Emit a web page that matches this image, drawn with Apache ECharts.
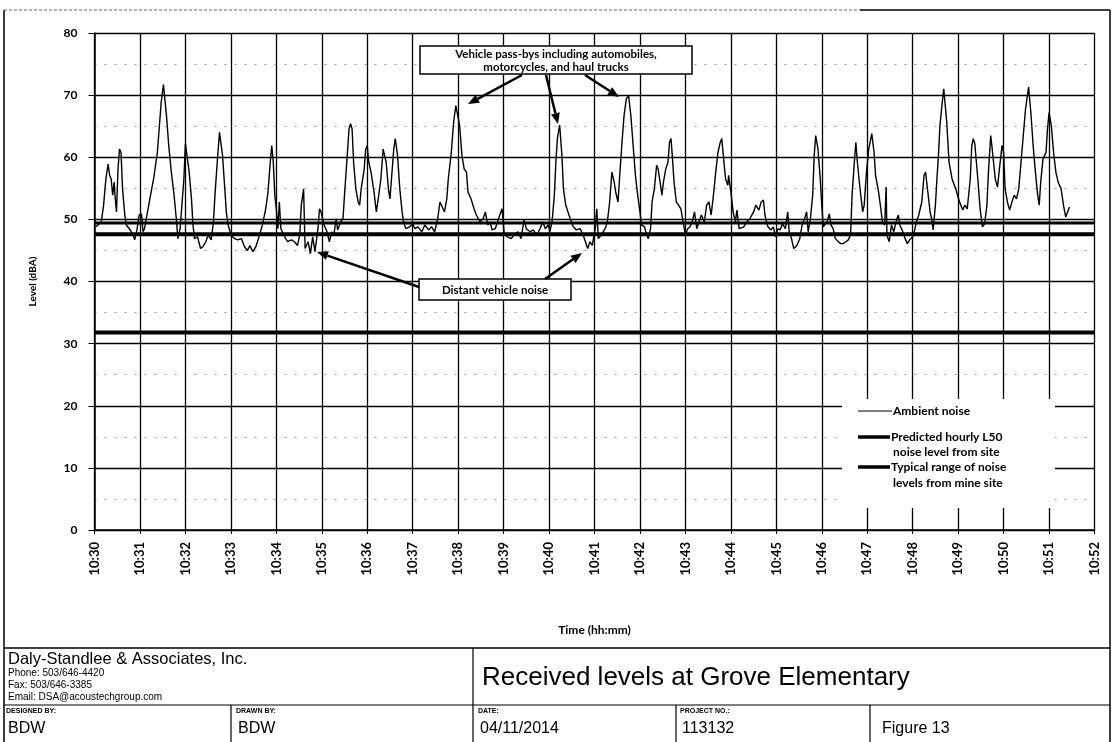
<!DOCTYPE html>
<html>
<head>
<meta charset="utf-8">
<script src="https://cdn.jsdelivr.net/npm/echarts@6/dist/echarts.min.js"></script>
<style>
html,body{margin:0;padding:0;background:#fff;}
#c{width:1114px;height:742px;}
</style>
</head>
<body>
<div id="c"></div>
<script>
// ---- Data (seconds after 10:30:00, level in dBA) ----
const xTickLabels = ['10:30','10:31','10:32','10:33','10:34','10:35','10:36','10:37','10:38','10:39','10:40','10:41','10:42','10:43','10:44','10:45','10:46','10:47','10:48','10:49','10:50','10:51','10:52'];
const yTickValues = [0,10,20,30,40,50,60,70,80];

const ambientTimes = [
2,9,12,15,18,20,22,24,26,27,29,31,33,35,37,40,42,46,51,53,56,59,62,64,66,70,74,78,83,86,88,91,95,98,101,105,108,110,113,115,118,120,122,125,128,130,132,136,140,143,147,150,154,157,159,162,165,167,169,172,174,176,180,185,189,194,198,202,205,209,213,218,222,226,229,232,234,236,238,240,242,244,246,251,255,260,264,268,271,273,276,278,282,285,288,291,295,297,299,303,307,310,313,316,319,321,325,328,330,333,336,338,340,342,345,348,350,352,356,358,360,362,365,369,372,374,378,381,383,385,388,390,392,395,397,400,403,406,408,411,416,420,
423,427,432,436,441,445,449,453,456,458,462,465,467,471,474,477,479,482,485,488,491,493,497,501,504,509,513,516,519,522,525,529,532,535,538,541,545,550,554,559,563,567,570,575,579,584,588,592,595,599,601,604,607,609,611,614,617,619,622,625,628,632,636,641,645,648,651,654,657,661,663,665,669,674,677,680,683,686,688,691,693,696,699,702,705,708,711,714,717,720,722,726,729,731,734,736,739,742,744,746,749,751,754,757,759,761,763,765,768,771,774,777,780,783,786,789,792,795,798,801,805,808,811,814,817,820,823,826,828,830,833,836,837,840,843,846,
848,851,853,857,861,865,870,873,875,877,880,883,885,887,889,893,896,899,902,905,908,912,915,917,920,923,927,931,934,938,940,942,945,948,950,952,955,958,960,962,964,967,970,972,975,978,982,985,988,992,995,998,1000,1003,1005,1007,1010,1014,1016,1019,1022,1026,1029,1031,1035,1038,1040,1043,1045,1046,1049,1052,1055,1058,1061,1063,1067,1070,1073,1076,1080,1082,1085,1088,1092,1095,1097,1100,1103,1105,1107,1110,1112,1114,1116,1119,1121,1125,1128,1132,1135,1137,1139,1142,1146,1149,1152,1156,1158,1160,1162,1166,1169,1172,1175,1178,1180,1183,1185,1189,1192,1194,1198,1200,1202,1205,1208,1211,1214,1217,1220,1223,1226,1229,1233,1236,1239,1242,1245,1247,1249,1252,1256,1258,1260,1263,1266,1269,1272,1276,1279,1282,1287
];
const ambientLevels = [
48.8,49.6,52.3,56.5,58.9,57.1,56.5,53.9,56.0,53.9,51.2,58.1,61.3,60.8,54.9,50.7,49.1,48.5,47.5,46.7,48.3,50.7,50.9,48.0,48.5,51.2,53.9,56.5,60.8,65.6,68.8,71.7,66.7,61.9,58.1,53.9,50.1,46.9,48.5,51.7,56.5,62.2,62.4,57.6,53.3,49.1,46.9,47.2,45.3,45.6,46.4,47.5,46.7,49.6,53.9,59.2,64.0,64.0,60.3,54.9,51.2,49.3,47.5,46.9,46.7,46.9,45.6,45.0,45.8,44.8,45.6,47.5,49.3,51.7,54.4,59.2,61.9,59.2,53.9,51.7,48.5,52.8,48.5,47.2,46.4,46.7,46.4,45.8,47.5,52.3,54.9,45.3,46.4,44.5,47.2,44.8,48.5,51.7,51.2,49.1,48.0,46.4,48.0,47.5,50.1,48.3,49.6,50.1,53.9,59.2,64.6,65.4,64.6,59.2,54.9,52.8,52.3,54.9,58.1,61.3,61.9,59.2,57.6,54.4,51.2,52.8,56.5,61.3,61.6,59.2,54.9,53.3,56.5,61.3,63.0,60.3,54.9,51.2,49.6,48.5,48.8,49.3,
48.5,48.8,48.0,49.1,48.3,48.8,48.0,50.1,52.8,53.1,51.2,53.3,56.5,60.8,65.6,68.3,68.0,65.1,60.3,58.1,57.6,54.4,53.3,51.7,50.7,49.6,50.1,51.2,49.1,49.6,48.3,48.5,49.6,50.7,51.7,47.5,47.2,46.9,47.5,48.0,46.9,49.9,48.5,48.0,48.3,47.5,48.5,49.6,48.5,49.1,48.0,49.6,53.9,59.2,63.0,65.2,60.3,54.9,52.3,51.2,50.1,48.8,48.3,48.5,47.5,46.4,45.3,46.4,45.8,48.5,51.7,46.9,47.5,48.5,49.6,52.8,57.6,56.0,54.4,52.8,56.5,61.9,66.7,69.4,69.9,66.7,61.9,57.1,53.9,51.2,49.1,48.8,47.5,46.9,48.5,52.8,54.9,58.7,58.1,56.5,53.9,56.0,58.1,59.2,62.4,63.0,59.7,56.0,52.8,52.3,51.7,49.6,47.5,48.5,48.8,49.6,51.2,48.5,49.6,50.7,49.6,52.3,52.8,50.7,53.9,57.6,60.8,62.4,63.0,60.3,56.5,55.5,57.1,54.4,51.2,49.6,
51.5,48.5,48.5,48.8,49.6,50.1,51.2,52.3,52.5,51.5,52.8,53.1,50.7,49.6,48.8,48.3,48.8,47.2,48.5,48.3,49.3,48.5,51.2,48.0,46.9,45.3,45.8,46.9,49.1,50.4,51.2,48.0,50.1,53.9,60.3,63.5,61.3,56.5,52.3,48.8,48.5,49.6,50.9,49.1,48.5,46.9,46.4,46.1,46.1,46.4,46.7,47.5,53.9,59.2,62.4,59.2,55.5,51.2,52.3,57.6,61.3,63.8,60.8,57.1,54.4,51.7,49.6,49.1,55.2,47.5,46.4,49.1,48.0,49.6,50.7,49.1,48.0,46.9,46.1,46.7,47.2,48.0,49.6,50.7,52.8,57.1,57.6,54.4,51.2,50.1,48.3,52.3,56.5,60.3,65.1,68.8,71.0,65.6,59.2,56.5,55.5,54.9,53.9,52.8,51.5,52.3,51.7,56.5,61.9,63.0,62.2,56.5,51.7,48.8,49.3,52.3,57.6,63.5,61.3,56.5,55.2,57.6,61.9,60.8,54.9,52.8,51.5,52.8,53.9,53.3,54.9,59.2,63.5,67.8,71.3,67.2,61.9,57.6,53.9,52.3,56.0,59.7,60.8,64.6,67.2,65.1,60.8,57.6,56.0,54.9,52.3,50.4,52.0
];

const predictedL50 = 31.8;            // Predicted hourly L50 noise level from site
const mineRangeLow = 47.6;            // Typical range of noise levels from mine site
const mineRangeHigh = 49.4;

const legendLabels = ['Ambient noise', 'Predicted hourly L50', 'noise level from site', 'Typical range of noise', 'levels from mine site'];
const passByText = ['Vehicle pass-bys including automobiles,', 'motorcycles, and haul trucks'];
const distantText = 'Distant vehicle noise';
const footer = {
  company: 'Daly-Standlee & Associates, Inc.',
  phone: 'Phone: 503/646-4420',
  fax: 'Fax: 503/646-3385',
  email: 'Email: DSA@acoustechgroup.com',
  title: 'Received levels at Grove Elementary',
  heads: ['DESIGNED BY:', 'DRAWN BY:', 'DATE:', 'PROJECT NO.:', ''],
  vals: ['BDW', 'BDW', '04/11/2014', '113132', 'Figure 13']
};

// ---- Chart ----
const chart = echarts.init(document.getElementById('c'));
const lab = {fontFamily:'Lato, "Open Sans", sans-serif', fontWeight:'bold', color:'#000'};
const ambientData = ambientTimes.map((t,i)=>[t, ambientLevels[i]]);

function arrow(x1,y1,x2,y2){
  const a = Math.atan2(y2-y1, x2-x1), L = 11, W = 4.5;
  const bx = x2 - L*Math.cos(a), by = y2 - L*Math.sin(a);
  const px = -Math.sin(a)*W, py = Math.cos(a)*W;
  return [
    {type:'line', z:120, shape:{x1:x1,y1:y1,x2:bx,y2:by}, style:{stroke:'#000', lineWidth:2.5}},
    {type:'polygon', z:120, shape:{points:[[x2,y2],[bx+px,by+py],[bx-px,by-py]]}, style:{fill:'#000'}}
  ];
}
const T = (x,y,text,fs,extra)=>Object.assign({type:'text', z:130, x:x, y:y, style:Object.assign({text:text, fontSize:fs, fontFamily:'"Liberation Sans", Arial, sans-serif', fill:'#000', textVerticalAlign:'middle'}, extra||{})});
const Lf = (x1,y1,x2,y2,w,c)=>({type:'line', z:110, shape:{x1:x1,y1:y1,x2:x2,y2:y2}, style:{stroke:c||'#000', lineWidth:w||1.5}});

const graphics = [];
// outer frame
graphics.push(Lf(4,10,4,742,1.5), Lf(1110,10,1110,742,1.5), Lf(860,10,1110,10,1.5));
graphics.push({type:'line', z:110, shape:{x1:4,y1:10,x2:860,y2:10}, style:{stroke:'#666', lineWidth:1.2, lineDash:[3,2]}});
// legend box
graphics.push({type:'rect', z:100, shape:{x:842,y:399,width:213,height:109}, style:{fill:'#fff'}});
graphics.push({type:'line', z:110, shape:{x1:858,y1:411,x2:892,y2:411}, style:{stroke:'#000', lineWidth:1.2}});
graphics.push({type:'line', z:110, shape:{x1:858,y1:437,x2:890,y2:437}, style:{stroke:'#000', lineWidth:3.5}});
graphics.push({type:'line', z:110, shape:{x1:858,y1:467,x2:890,y2:467}, style:{stroke:'#000', lineWidth:3.5}});
const legY = [411, 437, 452, 467, 483];
const legX = [893, 891, 893, 891, 893];
legendLabels.forEach((s,i)=>graphics.push(T(legX[i], legY[i], s, 12, {fontFamily:lab.fontFamily, fontWeight:'bold'})));
// annotation boxes
graphics.push({type:'rect', z:115, shape:{x:420,y:46,width:272,height:28}, style:{fill:'#fff', stroke:'#000', lineWidth:1.5}});
graphics.push(T(556, 54, passByText[0], 11.5, {fontFamily:lab.fontFamily, fontWeight:'bold', textAlign:'center'}));
graphics.push(T(556, 67, passByText[1], 11.5, {fontFamily:lab.fontFamily, fontWeight:'bold', textAlign:'center'}));
graphics.push({type:'rect', z:115, shape:{x:419,y:279,width:152,height:21}, style:{fill:'#fff', stroke:'#000', lineWidth:1.5}});
graphics.push(T(495, 290, distantText, 11.5, {fontFamily:lab.fontFamily, fontWeight:'bold', textAlign:'center'}));
graphics.push(...arrow(522,75,468,104), ...arrow(546,75,558,124), ...arrow(585,75,619,97));
graphics.push(...arrow(419,287,317,252), ...arrow(545,279,582,253));
// footer
graphics.push(Lf(4,648,1110,648,1.5), Lf(4,705,1110,705,1.2), Lf(473,648,473,742,1.2));
[231,676,870].forEach(x=>graphics.push(Lf(x,705,x,742,1.2)));
graphics.push(T(8,659,footer.company,16.5));
graphics.push(T(8,673,footer.phone,10), T(8,685,footer.fax,10), T(8,697,footer.email,10));
graphics.push(T(482,678,footer.title,26));
const colX = [6,236,478,680,880];
footer.heads.forEach((h,i)=>{ if(h) graphics.push(T(colX[i],711,h,7,{fontWeight:'bold'})); });
footer.vals.forEach((v,i)=>graphics.push(T(colX[i]+2,729,v,16)));

const hLine = (name,val,w)=>({name:name, type:'line', data:[[0,val],[1320,val]], symbol:'none', silent:true, z:4,
  lineStyle:{color:'#000', width:w}, animation:false});

chart.setOption({
  animation:false,
  backgroundColor:'#fff',
  grid:{left:94.5, right:19.5, top:33, bottom:212, containLabel:false},
  xAxis:{type:'value', min:0, max:1320, interval:60,
    axisLine:{show:true, onZero:false, lineStyle:{color:'#000', width:1.5}},
    axisTick:{show:true, length:4, lineStyle:{color:'#000'}},
    axisLabel:Object.assign({rotate:90, margin:12, fontSize:13, formatter:v=>xTickLabels[Math.round(v/60)]}, lab),
    splitLine:{show:true, lineStyle:{color:'#000', width:1.3}},
    name:'Time (hh:mm)', nameLocation:'middle', nameGap:94,
    nameTextStyle:Object.assign({fontSize:12}, lab)},
  yAxis:{type:'value', min:0, max:80, interval:10,
    axisLine:{show:true, lineStyle:{color:'#000', width:1.5}},
    axisTick:{show:true, length:6, lineStyle:{color:'#000'}},
    axisLabel:Object.assign({margin:17, fontSize:12, formatter:v=>String(yTickValues[Math.round(v/10)])}, lab),
    splitLine:{show:true, lineStyle:{color:'#000', width:1.3}},
    minorTick:{show:false, splitNumber:2},
    minorSplitLine:{show:true, lineStyle:{color:'#999', width:1, type:[2,8]}},
    name:'Level (dBA)', nameLocation:'middle', nameGap:57,
    nameTextStyle:Object.assign({fontSize:10}, lab)},
  series:[
    {name:'Ambient noise', type:'line', data:ambientData, symbol:'none', z:5,
      lineStyle:{color:'#000', width:1.4}},
    hLine('Predicted hourly L50 noise level from site', predictedL50, 4),
    hLine('Typical range of noise levels from mine site', mineRangeLow, 4),
    hLine('Typical range of noise levels from mine site', mineRangeHigh, 3)
  ],
  graphic:{elements:graphics}
});
</script>
</body>
</html>
